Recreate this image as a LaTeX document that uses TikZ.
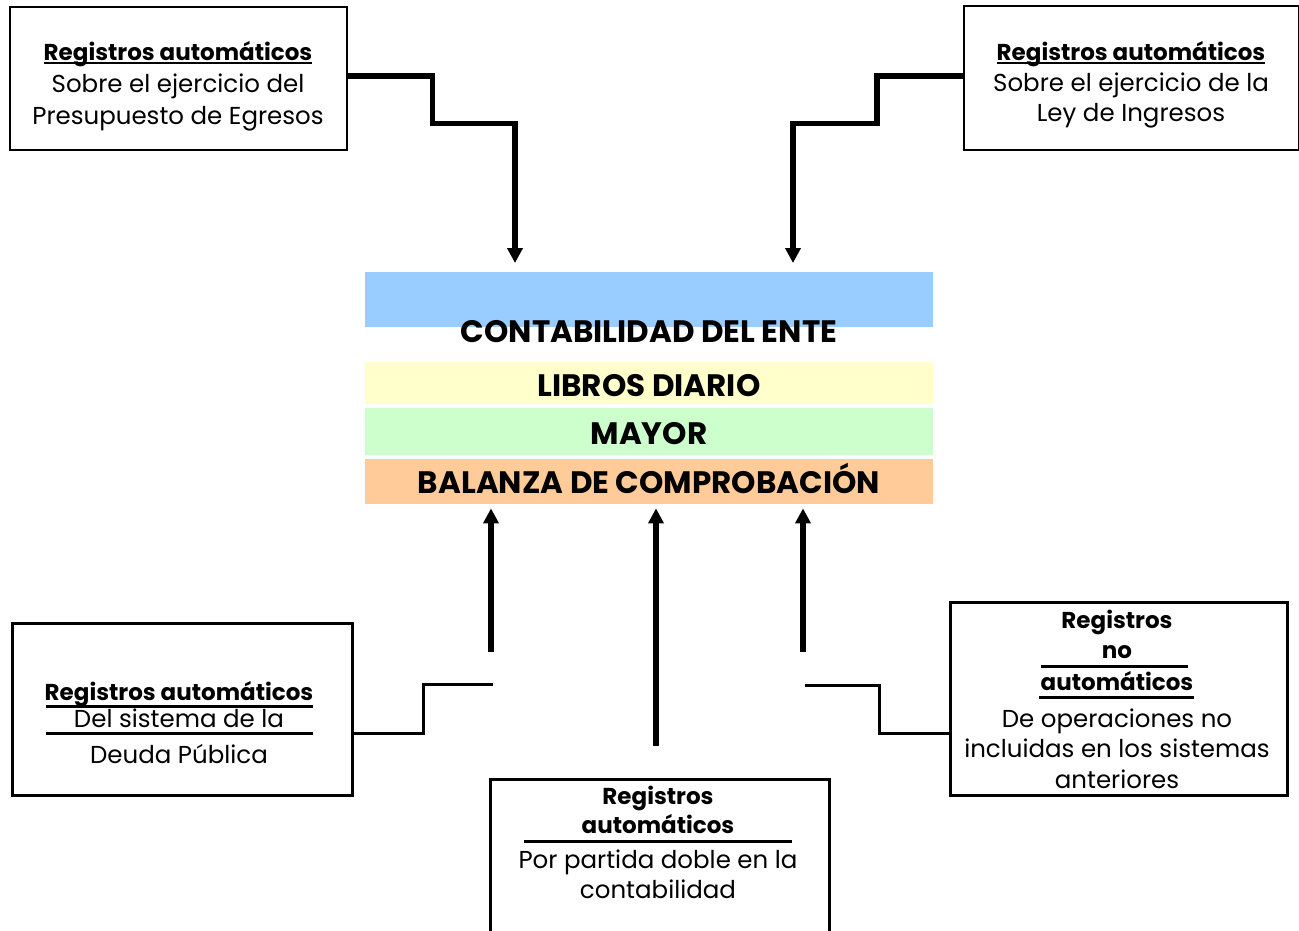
\documentclass[tikz,border=0pt]{standalone}
\usepackage{fontspec}
\setmainfont{Poppins}
\usetikzlibrary{arrows.meta}
\definecolor{barblue}{HTML}{99CCFF}
\definecolor{baryellow}{HTML}{FFFFCC}
\definecolor{bargreen}{HTML}{CCFFCC}
\definecolor{barorange}{HTML}{FFCC99}
\tikzset{
  box/.style={draw=black, line width=2pt, inner sep=0pt, anchor=north west},
  boxb/.style={box, line width=3pt},
  bar/.style={draw=none, inner sep=0pt, anchor=north west, minimum width=568pt},
  txt/.style={anchor=base, inner sep=0pt, font=\fontsize{24.5}{28}\selectfont},
  head/.style={anchor=base, inner sep=0pt, font=\bfseries\fontsize{23}{27}\selectfont},
  bartxt/.style={anchor=base, inner sep=0pt, font=\bfseries\fontsize{31}{35}\selectfont},
  uline/.style={line width=2pt},
  rule/.style={line width=3pt},
  conn/.style={line width=5.5pt, -{Triangle[width=15pt,length=15pt]}},
  connthin/.style={line width=3pt},
}
\begin{document}
\begin{tikzpicture}[x=1pt,y=-1pt]
\useasboundingbox (0,0) rectangle (1299,930);
\clip (0,0) rectangle (1299,930);
\fill[white] (0,0) rectangle (1299,930);

% central bars
\node[bar, fill=barblue, minimum height=55pt] (cont) at (365,272) {};
\node[bar, fill=baryellow, minimum height=42pt] (libros) at (365,362) {};
\node[bar, fill=bargreen, minimum height=47pt] (mayor) at (365,408) {};
\node[bar, fill=barorange, minimum height=45pt] (balanza) at (365,459) {};
\node[bartxt] (contT) at (649,342) {CONTABILIDAD DEL ENTE};
\node[bartxt] (librosT) at (649,396) {LIBROS DIARIO};
\node[bartxt] (mayorT) at (649,444) {MAYOR};
\node[bartxt] (balanzaT) at (649,493) {BALANZA DE COMPROBACIÓN};

% top-left box
\node[box, minimum width=337pt, minimum height=143pt] (tl) at (9,6) {};
\node[head] (tlh) at (178,60) {Registros automáticos};
\draw[uline] ([yshift=-3pt]tlh.base west) -- ([yshift=-3pt]tlh.base east);
\node[txt] (tl1) at (178,92) {Sobre el ejercicio del};
\node[txt] (tl2) at (178,124) {Presupuesto de Egresos};

% top-right box
\node[box, minimum width=335pt, minimum height=144pt] (tr) at (963,5) {};
\node[head] (trh) at (1131,60) {Registros automáticos};
\draw[uline] ([yshift=-3pt]trh.base west) -- ([yshift=-3pt]trh.base east);
\node[txt] (tr1) at (1131,91) {Sobre el ejercicio de la};
\node[txt] (tr2) at (1131,121) {Ley de Ingresos};

% top connectors
\coordinate (tlend) at (515,263);
\coordinate (trend) at (793,263);
\draw[conn] (tl.east |- 0,76) -- (432.5,76) -- (432.5,123.5) -- (515,123.5) -- (tlend);
\draw[conn] (tr.west |- 0,76) -- (877,76) -- (877,123.5) -- (793,123.5) -- (trend);

% bottom-left box
\node[boxb, minimum width=340pt, minimum height=172pt] (bl) at (11,622) {};
\node[head] (blh) at (179,700) {Registros automáticos};
\draw[rule] (46,706) -- (313,706);
\node[txt] (bl1) at (179,727) {Del sistema de la};
\draw[rule] (46,733) -- (313,733);
\node[txt] (bl2) at (179,763) {Deuda Pública};

% bottom-right box
\node[boxb, minimum width=337pt, minimum height=193pt] (br) at (949,601) {};
\node[head] (brh1) at (1117,628) {Registros};
\node[head] (brh2) at (1117,658) {no};
\draw[rule] (1041,666) -- (1188,666);
\node[head] (brh3) at (1117,690) {automáticos};
\draw[rule] (1039,697) -- (1194,697);
\node[txt] (br1) at (1117,727) {De operaciones no};
\node[txt] (br2) at (1117,757) {incluidas en los sistemas};
\node[txt] (br3) at (1117,788) {anteriores};

% bottom-center box (runs off the bottom edge)
\node[boxb, minimum width=339pt, minimum height=200pt] (bc) at (489,778) {};
\node[head] (bch1) at (658,804) {Registros};
\node[head] (bch2) at (658,833) {automáticos};
\draw[rule] (524,841) -- (792,841);
\node[txt] (bc1) at (658,868) {Por partida doble en la};
\node[txt] (bc2) at (658,898) {contabilidad};

% bottom arrows
\coordinate (a1s) at (491,652);
\coordinate (a2s) at (656,746);
\coordinate (a3s) at (803,652);
\draw[conn] (a1s) -- ([yshift=-4pt]balanza.south -| a1s);
\draw[conn] (a2s) -- ([yshift=-4pt]balanza.south -| a2s);
\draw[conn] (a3s) -- ([yshift=-4pt]balanza.south -| a3s);

% bottom thin connectors
\coordinate (blc) at (493,684);
\coordinate (brc) at (805,685);
\draw[connthin] (bl.east |- 0,733) -- (423,733) -- (423,684) -- (blc);
\draw[connthin] (brc) -- (879,685) -- (879,733) -- (br.west |- 0,733);
\end{tikzpicture}
\end{document}
